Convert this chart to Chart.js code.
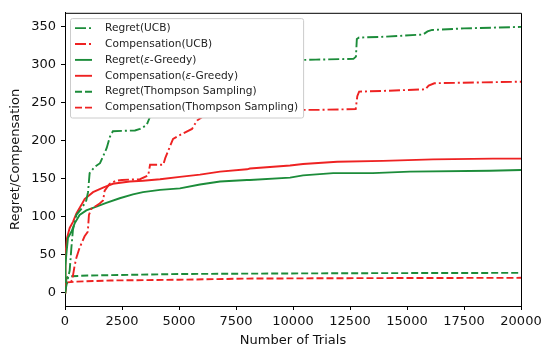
<!DOCTYPE html>
<html>
<head>
<meta charset="utf-8">
<script src="https://cdn.jsdelivr.net/npm/chart.js@4"></script>
<style>
  html, body { margin: 0; padding: 0; background: #fff; }
  #wrap { width: 546px; height: 348px; position: relative; }
</style>
</head>
<body>
<div id="wrap"><canvas id="regretChart"></canvas></div>
<script>
// Tick labels
const xTicks = [0, 2500, 5000, 7500, 10000, 12500, 15000, 17500, 20000];
const yTicks = [0, 50, 100, 150, 200, 250, 300, 350];

// Series: trial number and cumulative value
const regretUcbX = [0, 100, 205, 280, 350, 500, 715, 935, 1010, 1080, 1300, 1535, 1670, 1830, 1974, 2100, 3070, 3290, 3580, 3730, 3816, 4100, 4500, 5000, 5600, 6300, 7000, 8000, 9500, 11000, 12650, 12760, 12800, 12900, 14000, 15700, 15900, 16100, 17500, 20000];
const regretUcbY = [0, 15, 29, 59, 83, 102, 110, 121, 132, 157, 165, 170, 179, 190, 205, 212, 213, 215, 220, 231, 240, 250, 262, 278, 292, 300, 303, 305, 305, 306, 307, 310, 333, 335, 336, 339, 343, 345, 347, 349];

const compUcbX = [0, 50, 280, 320, 425, 500, 640, 860, 1000, 1050, 1150, 1520, 1670, 1740, 1960, 2240, 2500, 3290, 3650, 3730, 4310, 4400, 4740, 5040, 5570, 5790, 6230, 6600, 7500, 9000, 11000, 12750, 12820, 12900, 14000, 15800, 15950, 16200, 18000, 20000];
const compUcbY = [0, 12, 15, 17, 36, 46, 59, 74, 80, 102, 110, 117, 121, 134, 143, 147, 148, 149, 154, 168, 168, 177, 202, 207, 215, 226, 235, 238, 239, 240, 240, 241, 258, 264, 265, 267, 272, 275, 276, 277];

const regretGreedyX = [0, 20, 60, 130, 280, 425, 640, 935, 1375, 1810, 2400, 2980, 3420, 4170, 5040, 5920, 6800, 7980, 8110, 9870, 10440, 11760, 13500, 15130, 18640, 20000];
const regretGreedyY = [0, 35, 51, 72, 80, 91, 102, 108, 113, 118, 124, 129, 132, 135, 137, 142, 146, 148, 148, 151, 154, 157, 157, 159, 160, 161];

const compGreedyX = [0, 10, 30, 90, 205, 350, 500, 715, 860, 1230, 1670, 2100, 2840, 3420, 4170, 5040, 5920, 6800, 7980, 8110, 9870, 10440, 11940, 13950, 16140, 18770, 20000];
const compGreedyY = [0, 30, 51, 72, 85, 93, 104, 115, 123, 132, 138, 143, 146, 147, 149, 152, 155, 159, 162, 163, 167, 169, 172, 173, 175, 176, 176];

const regretTsX = [0, 30, 80, 200, 1000, 3000, 5000, 8000, 12000, 16000, 20000];
const regretTsY = [0, 12, 20, 21.5, 22.5, 23.5, 24.5, 25, 25.5, 25.8, 26];

const compTsX = [0, 30, 100, 500, 2000, 5000, 8000, 12000, 16000, 20000];
const compTsY = [0, 10, 13.5, 14.5, 16, 17, 18.5, 19, 19.3, 19.5];

const GREEN = '#1c8c3a';
const RED = '#ee2222';
const DASHDOT = [11, 3, 2, 3];
const DASHED = [7, 3];

const toPoints = (xs, ys) => xs.map((x, i) => ({ x: x, y: ys[i] }));

const makeSet = (label, xs, ys, color, dash) => ({
  label: label,
  data: toPoints(xs, ys),
  borderColor: color,
  backgroundColor: color,
  borderWidth: 1.9,
  borderDash: dash,
  pointRadius: 0,
  showLine: true,
  fill: false
});

const datasets = [
  makeSet('Regret(UCB)', regretUcbX, regretUcbY, GREEN, DASHDOT),
  makeSet('Compensation(UCB)', compUcbX, compUcbY, RED, DASHDOT),
  makeSet('Regret(ε-Greedy)', regretGreedyX, regretGreedyY, GREEN, []),
  makeSet('Compensation(ε-Greedy)', compGreedyX, compGreedyY, RED, []),
  makeSet('Regret(Thompson Sampling)', regretTsX, regretTsY, GREEN, DASHED),
  makeSet('Compensation(Thompson Sampling)', compTsX, compTsY, RED, DASHED)
];

const FONT = '"DejaVu Sans", sans-serif';
const LEGEND_SIZE = 10.6;

// draws a label, putting the epsilon in italics like mathtext does
const drawLabel = (ctx, text, x, y, draw) => {
  const parts = text.split('ε');
  let cx = x;
  parts.forEach((part, i) => {
    ctx.font = LEGEND_SIZE + 'px ' + FONT;
    if (draw) ctx.fillText(part, cx, y);
    cx += ctx.measureText(part).width;
    if (i < parts.length - 1) {
      ctx.font = 'italic ' + LEGEND_SIZE + 'px ' + FONT;
      if (draw) ctx.fillText('ε', cx, y);
      cx += ctx.measureText('ε').width;
    }
  });
  return cx - x;
};

// matplotlib-like legend box in the upper left of the plot
const legendBox = {
  id: 'legendBox',
  afterDatasetsDraw(chart) {
    const { ctx, chartArea } = chart;
    const sets = chart.data.datasets;
    const x0 = chartArea.left + 5;
    const y0 = chartArea.top + 5.3;
    const rowH = 15.9;
    ctx.save();
    let maxW = 0;
    sets.forEach(ds => { maxW = Math.max(maxW, drawLabel(ctx, ds.label, 0, 0, false)); });
    const w = 40 + maxW;
    const h = 99.4;
    ctx.beginPath();
    if (ctx.roundRect) ctx.roundRect(x0 + 0.5, y0 + 0.5, w, h, 2);
    else ctx.rect(x0 + 0.5, y0 + 0.5, w, h);
    ctx.fillStyle = '#ffffff';
    ctx.fill();
    ctx.strokeStyle = '#cccccc';
    ctx.lineWidth = 1;
    ctx.stroke();

    sets.forEach((ds, i) => {
      const cy = y0 + 10 + i * rowH;
      ctx.beginPath();
      ctx.setLineDash(ds.borderDash);
      ctx.strokeStyle = ds.borderColor;
      ctx.lineWidth = ds.borderWidth;
      ctx.moveTo(x0 + 5, cy);
      ctx.lineTo(x0 + 22, cy);
      ctx.stroke();
      ctx.setLineDash([]);
      ctx.fillStyle = '#222';
      ctx.textBaseline = 'middle';
      ctx.textAlign = 'left';
      drawLabel(ctx, ds.label, x0 + 35, cy, true);
    });
    ctx.restore();
  },
  afterDraw(chart) {
    // top and right spines
    const { ctx, chartArea } = chart;
    ctx.save();
    ctx.strokeStyle = '#000';
    ctx.lineWidth = 1;
    ctx.beginPath();
    ctx.moveTo(chartArea.left, chartArea.top + 0.5);
    ctx.lineTo(chartArea.right + 0.5, chartArea.top + 0.5);
    ctx.lineTo(chartArea.right + 0.5, chartArea.bottom);
    ctx.stroke();
    ctx.restore();
  }
};

Chart.defaults.font.family = FONT;
Chart.defaults.color = '#111';

new Chart(document.getElementById('regretChart'), {
  type: 'scatter',
  data: { datasets: datasets },
  plugins: [legendBox],
  options: {
    responsive: true,
    maintainAspectRatio: false,
    animation: false,
    layout: { padding: { top: 7, right: 25, left: 0, bottom: 0 } },
    plugins: {
      legend: { display: false },
      tooltip: { enabled: false }
    },
    scales: {
      x: {
        type: 'linear',
        min: 0,
        max: 20000,
        afterBuildTicks: (scale) => { scale.ticks = xTicks.map(v => ({ value: v })); },
        afterFit: (scale) => { scale.height = 42; },
        ticks: {
          font: { size: 13 },
          color: '#111',
          padding: 4,
          maxRotation: 0,
          autoSkip: false,
          callback: (v) => String(v)
        },
        grid: { drawOnChartArea: false, drawTicks: true, tickLength: 4, color: '#000' },
        border: { color: '#000', width: 1 },
        title: {
          display: true,
          text: 'Number of Trials',
          font: { size: 13 },
          color: '#111',
          padding: { top: 0, bottom: 0 }
        }
      },
      y: {
        type: 'linear',
        min: -17.5,
        max: 367.5,
        afterBuildTicks: (scale) => { scale.ticks = yTicks.map(v => ({ value: v })); },
        afterFit: (scale) => { scale.width = 65; },
        ticks: {
          font: { size: 13 },
          color: '#111',
          padding: 5,
          autoSkip: false,
          callback: (v) => String(v)
        },
        grid: { drawOnChartArea: false, drawTicks: true, tickLength: 4, color: '#000' },
        border: { color: '#000', width: 1 },
        title: {
          display: true,
          text: 'Regret/Compensation',
          font: { size: 13 },
          color: '#111',
          padding: { top: 8, bottom: 0 }
        }
      }
    }
  }
});
</script>
</body>
</html>
